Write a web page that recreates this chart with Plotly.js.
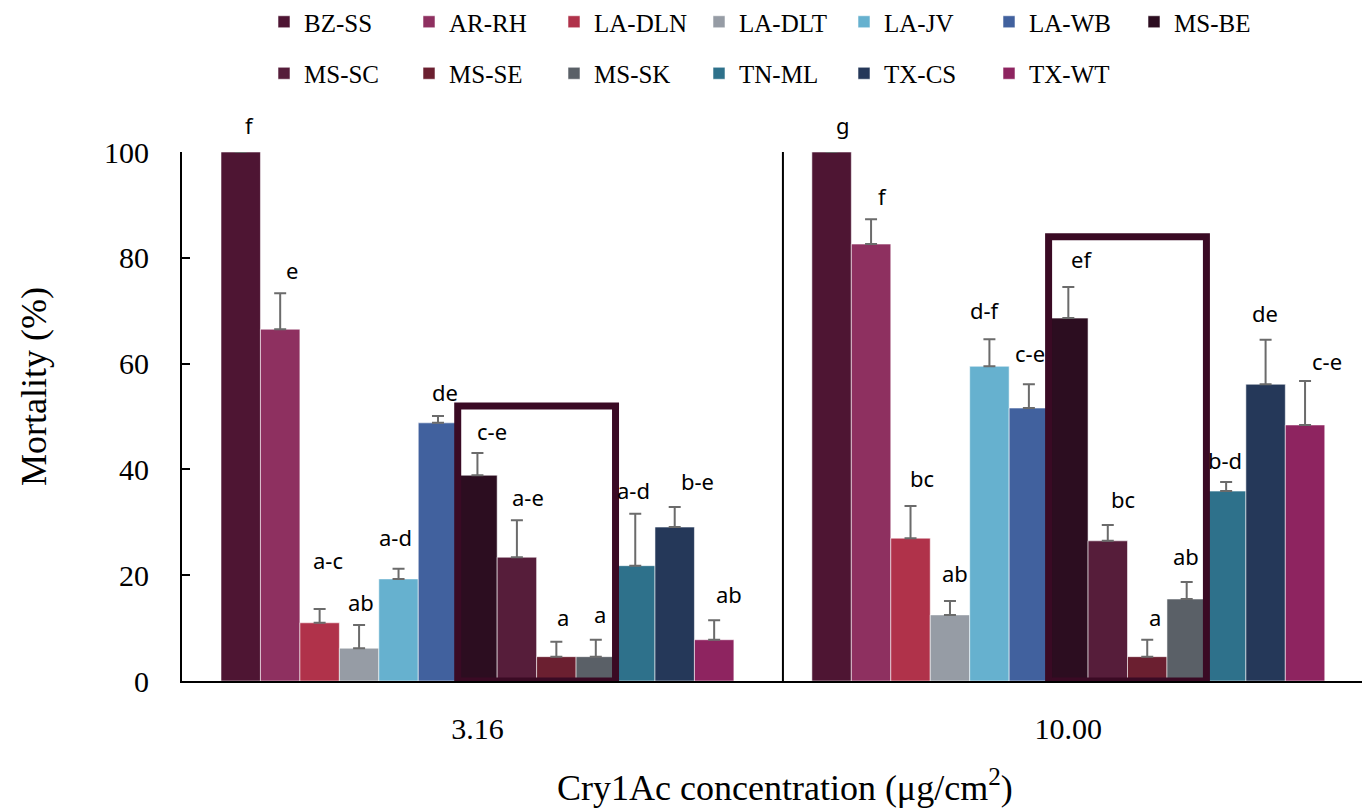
<!DOCTYPE html>
<html>
<head>
<meta charset="utf-8">
<script src="https://cdn.plot.ly/plotly-3.0.1.min.js"></script>
<style>html,body{margin:0;padding:0;background:#fff;}#chart{width:1362px;height:809px;}</style>
</head>
<body>
<div id="chart"></div>
<script>
// ---- data ----
const categories = ['3.16', '10.00'];
const strains = ['BZ-SS','AR-RH','LA-DLN','LA-DLT','LA-JV','LA-WB','MS-BE','MS-SC','MS-SE','MS-SK','TN-ML','TX-CS','TX-WT'];
const mortality316 = [100, 66.5, 11.0, 6.2, 19.3, 48.8, 38.9, 23.4, 4.6, 4.6, 21.8, 29.1, 7.8];
const error316 = [0, 6.8, 2.6, 4.4, 1.9, 1.3, 4.2, 7.0, 2.8, 3.2, 9.8, 3.8, 3.7];
const mortality1000 = [100, 82.6, 27.0, 12.5, 59.5, 51.6, 68.6, 26.5, 4.6, 15.5, 35.9, 56.1, 48.4];
const error1000 = [0, 4.7, 6.1, 2.6, 5.1, 4.5, 5.9, 3.0, 3.2, 3.2, 1.7, 8.4, 8.3];
const letters316 = ['f','e','a-c','ab','a-d','de','c-e','a-e','a','a','a-d','b-e','ab'];
const letters1000 = ['g','f','bc','ab','d-f','c-e','ef','bc','a','ab','b-d','de','c-e'];

// ---- styles / positions ----
const colors = ['#4E1533','#8E3060','#B0324A','#969CA5','#66B1CF','#41619E','#2C0D20','#561D3A','#6B1F30','#5A6067','#2E718B','#253859','#8E2460'];
const labelDx = [[9,12,8,2,-3,7,15,11,7,4,-2,23,15],[11,11,11,5,-4,1,13,15,8,-1,-1,-1,22]];
const labelDy = [[27,23,49,23,32,24,22,23,25,26,24,26,26],[27,23,28,28,29,31,28,26,23,26,22,27,20]];
const highlightFirst = 6, highlightLast = 9;
const highlightTop = [52, 84];
const bargap = 0.132;

const serif = 'Liberation Serif';
const sans = 'Noto Sans';

const values = [mortality316, mortality1000];
const errors = [error316, error1000];
const letters = [letters316, letters1000];

const traces = strains.map((s, i) => ({
  type: 'bar',
  name: s,
  x: categories,
  y: [mortality316[i], mortality1000[i]],
  marker: {color: colors[i], line: {color: 'rgba(255,255,255,0.55)', width: 1}},
  error_y: {type: 'data', symmetric: false, array: [error316[i], error1000[i]], arrayminus: [0, 0],
            color: '#6b6b6b', thickness: 2, width: 6},
  legend: i < 7 ? 'legend' : 'legend2',
  cliponaxis: false,
  hoverinfo: 'name+y'
}));

const n = strains.length;
const w = (1 - bargap) / n;
const mid = (n - 1) / 2;

const annotations = [];
for (let g = 0; g < categories.length; g++) {
  for (let i = 0; i < n; i++) {
    annotations.push({
      x: g + (i - mid) * w, y: values[g][i] + errors[g][i], xref: 'x', yref: 'y',
      text: letters[g][i], showarrow: false, xanchor: 'center', yanchor: 'middle',
      xshift: labelDx[g][i], yshift: labelDy[g][i],
      font: {family: sans, size: 22, color: '#000'}
    });
  }
}
// axis titles (paper coords: x 0 at plot left, y 0 at plot bottom)
annotations.push({
  xref: 'paper', yref: 'paper', x: -0.1254, y: 0.556,
  text: 'Mortality (%)', textangle: -90, showarrow: false, xanchor: 'center', yanchor: 'middle',
  font: {family: serif, size: 36, color: '#000'}
});
annotations.push({
  xref: 'paper', yref: 'paper', x: 0.511, y: -0.198,
  text: 'Cry1Ac concentration (μg/cm<sup>2</sup>)', showarrow: false, xanchor: 'center', yanchor: 'middle',
  font: {family: serif, size: 36, color: '#000'}
});

const shapes = [];
for (let g = 0; g < categories.length; g++) {
  shapes.push({
    type: 'rect', xref: 'x', yref: 'y', layer: 'above',
    x0: g + (highlightFirst - mid) * w - w / 2, x1: g + (highlightLast - mid) * w + w / 2,
    y0: 0, y1: highlightTop[g],
    line: {color: '#3a0a24', width: 7}, fillcolor: 'rgba(0,0,0,0)'
  });
}
// separator between the two concentration panels
shapes.push({type: 'line', xref: 'x', yref: 'y', x0: 0.517, x1: 0.517, y0: -4.5, y1: 101.3,
             line: {color: '#000', width: 2}, layer: 'above'});
shapes.push({type: 'line', xref: 'x', yref: 'y', x0: 0.5, x1: 0.5, y0: 0, y1: -2,
             line: {color: '#000', width: 2}, layer: 'above'});

const legendFont = {family: serif, size: 25, color: '#000'};
const legendBase = {
  orientation: 'h', xref: 'container', yref: 'container', xanchor: 'left', yanchor: 'middle',
  x: 264/1362, entrywidth: 100, bgcolor: 'rgba(0,0,0,0)', traceorder: 'normal'
};

const layout = {
  width: 1362, height: 809, autosize: false,
  font: {family: serif, color: '#000'},
  paper_bgcolor: '#fff', plot_bgcolor: '#fff',
  margin: {l: 182, r: 0, t: 152, b: 128},
  barmode: 'group', bargap: bargap, bargroupgap: 0,
  showlegend: true,
  legend: Object.assign({}, legendBase, {y: 1 - 22/809, font: Object.assign({}, legendFont)}),
  legend2: Object.assign({}, legendBase, {y: 1 - 73.5/809, font: Object.assign({}, legendFont)}),
  xaxis: {
    type: 'category', range: [-0.5, 1.497], showline: true, linecolor: '#000', linewidth: 2,
    ticks: '', showgrid: false, zeroline: false, ticklabelstandoff: 20,
    tickfont: {family: serif, size: 30, color: '#000'}
  },
  yaxis: {
    range: [0, 100], tickvals: [0, 20, 40, 60, 80, 100], ticks: 'inside', ticklen: 8, tickwidth: 2,
    tickcolor: '#000', showline: true, linecolor: '#000', linewidth: 2, showgrid: false, zeroline: false,
    ticklabelstandoff: 25, tickfont: {family: serif, size: 30, color: '#000'}
  },
  annotations: annotations,
  shapes: shapes
};

Plotly.newPlot('chart', traces, layout, {displayModeBar: false, responsive: false});
</script>
</body>
</html>
